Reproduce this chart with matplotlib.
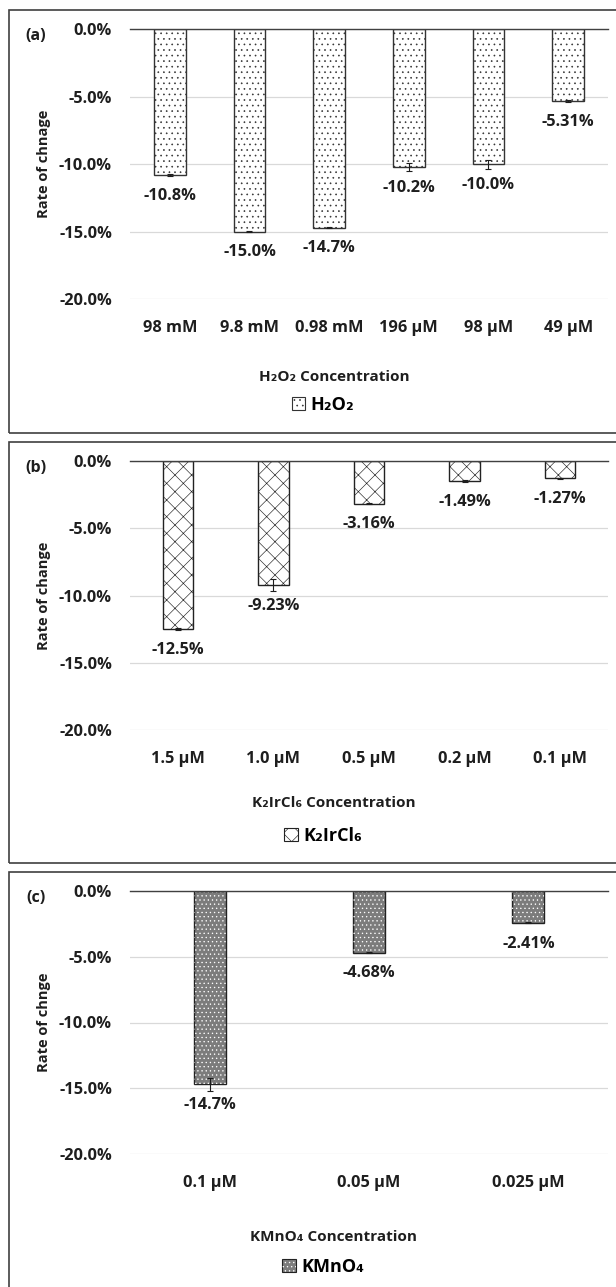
import matplotlib
matplotlib.use("Agg")
import matplotlib.pyplot as plt
from matplotlib.patches import Rectangle, Patch
from matplotlib.legend_handler import HandlerTuple
from matplotlib.ticker import FuncFormatter

plt.rcParams['font.family'] = ['Open Sans', 'DejaVu Sans']
plt.rcParams['font.weight'] = 'bold'
plt.rcParams['hatch.linewidth'] = 0.45

# H2O2 panel
h2o2_labels = ['98 mM', '9.8 mM', '0.98 mM', '196 µM', '98 µM', '49 µM']
h2o2_values = [-10.8, -15.0, -14.7, -10.2, -10.0, -5.31]
h2o2_err = [0.05, 0.05, 0.05, 0.3, 0.35, 0.08]
h2o2_text = ['-10.8%', '-15.0%', '-14.7%', '-10.2%', '-10.0%', '-5.31%']

# K2IrCl6 panel
irc_labels = ['1.5 µM', '1.0 µM', '0.5 µM', '0.2 µM', '0.1 µM']
irc_values = [-12.5, -9.23, -3.16, -1.49, -1.27]
irc_err = [0.1, 0.45, 0.04, 0.05, 0.04]
irc_text = ['-12.5%', '-9.23%', '-3.16%', '-1.49%', '-1.27%']

# KMnO4 panel
kmn_labels = ['0.1 µM', '0.05 µM', '0.025 µM']
kmn_values = [-14.7, -4.68, -2.41]
kmn_err = [0.5, 0.03, 0.03]
kmn_text = ['-14.7%', '-4.68%', '-2.41%']

W, H = 616, 1287
fig = plt.figure(figsize=(W / 100, H / 100), dpi=100)
INK = '#1e1e1e'


def fy(y):
    return 1 - y / H


def make_panel(top, bottom, frame_top, frame_bottom, tag, ylabel, xtitle,
               legend_label, labels, values, errs, texts, width, style,
               xtitle_y, legend_y):
    # frame around the panel
    fig.patches.append(Rectangle((9 / W, fy(frame_bottom)), 700 / W,
                                 (frame_bottom - frame_top) / H,
                                 transform=fig.transFigure, fill=False,
                                 edgecolor='#404040', linewidth=1.2))
    ax = fig.add_axes([130 / W, fy(bottom), 478 / W, (bottom - top) / H])
    x = range(len(values))
    if style == 'dots':
        ax.bar(x, values, width, color='white', edgecolor='#333333',
               hatch='...', linewidth=1.0, zorder=3)
        handle = Patch(facecolor='white', edgecolor='#333333', hatch='...',
                       linewidth=0.8)
    elif style == 'cross':
        ax.bar(x, values, width, color='white', edgecolor='#222222',
               hatch='xx', linewidth=1.0, zorder=3)
        handle = Patch(facecolor='white', edgecolor='#222222', hatch='xx',
                       linewidth=0.8)
    else:
        ax.bar(x, values, width, color='#7c7c7c', edgecolor='#222222',
               linewidth=1.0, zorder=3)
        ax.bar(x, values, width, color='none', edgecolor='white',
               hatch='....', linewidth=0, zorder=3.5)
        handle = (Patch(facecolor='#7c7c7c', edgecolor='#222222', linewidth=0.8),
                  Patch(facecolor='none', edgecolor='white', hatch='....',
                        linewidth=0))
    ax.errorbar(x, values, yerr=errs, fmt='none', ecolor=INK,
                elinewidth=0.8, capsize=2.5, capthick=0.8, zorder=4)
    for i, (v, t) in enumerate(zip(values, texts)):
        ax.annotate(t, (i, v), xytext=(0, -15), textcoords='offset points',
                    ha='center', va='center', fontsize=11.8, fontweight='bold',
                    color=INK)
    ax.set_ylim(-20, 0)
    ax.set_xlim(-0.5, len(values) - 0.5)
    ax.set_yticks([0, -5, -10, -15, -20])
    ax.yaxis.set_major_formatter(FuncFormatter(lambda v, p: f'{v:.1f}%'))
    ax.set_xticks(list(x))
    ax.set_xticklabels(labels)
    ax.tick_params(length=0, labelsize=11.8, colors=INK, pad=13)
    ax.tick_params(axis='x', pad=15)
    for s in ax.spines.values():
        s.set_visible(False)
    ax.grid(axis='y', color='#d9d9d9', linewidth=0.9, zorder=0)
    ax.set_axisbelow(True)
    ax.axhline(0, color='#404040', linewidth=1.0, zorder=5, clip_on=False)
    ax.set_ylabel(ylabel, fontsize=10.5, fontweight='bold', color=INK)
    ax.yaxis.set_label_coords(-79 / 478, 0.5)
    fig.text(36 / W, fy(top + 7), tag, ha='center', va='center',
             fontsize=11.5, fontweight='bold', color=INK)
    fig.text(334 / W, fy(xtitle_y), xtitle, ha='center', va='center',
             fontsize=11, fontweight='bold', color=INK)
    fig.legend(handles=[handle], labels=[legend_label], loc='center',
               bbox_to_anchor=(323 / W, fy(legend_y)), frameon=False,
               prop={'size': 13, 'weight': 'bold'}, handlelength=0.75,
               handleheight=0.75, handletextpad=0.3,
               handler_map={tuple: HandlerTuple(ndivide=1, pad=0)})
    return ax


make_panel(29.5, 299, 10, 433, '(a)', 'Rate of chnage', 'H₂O₂ Concentration',
           'H₂O₂', h2o2_labels, h2o2_values, h2o2_err, h2o2_text, 0.4,
           'dots', 377, 405)
make_panel(461, 730, 442, 863, '(b)', 'Rate of change', 'K₂IrCl₆ Concentration',
           'K₂IrCl₆', irc_labels, irc_values, irc_err, irc_text, 0.32,
           'cross', 803, 836)
make_panel(891, 1154, 872, 1300, '(c)', 'Rate of chnge', 'KMnO₄ Concentration',
           'KMnO₄', kmn_labels, kmn_values, kmn_err, kmn_text, 0.2,
           'dense', 1237, 1267)

fig.savefig('out.png', dpi=100)
